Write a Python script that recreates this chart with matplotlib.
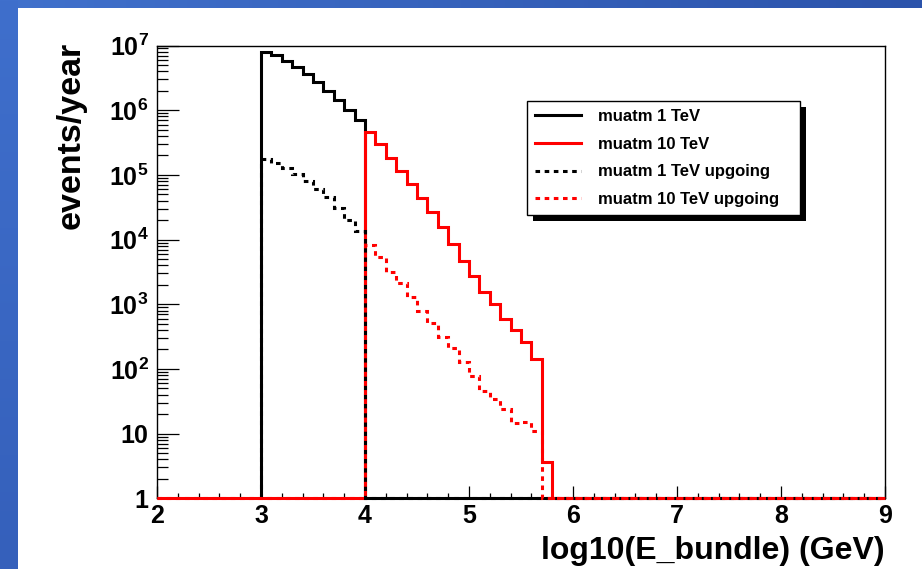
import numpy as np
import matplotlib
matplotlib.use("Agg")
import matplotlib.pyplot as plt
from matplotlib.patches import Rectangle
from matplotlib.ticker import FixedLocator, FixedFormatter, NullFormatter

plt.rcParams['font.family'] = ['Liberation Sans', 'DejaVu Sans']
plt.rcParams['font.weight'] = 'bold'
plt.rcParams['mathtext.fontset'] = 'custom'
plt.rcParams['mathtext.rm'] = 'Liberation Sans:bold'
plt.rcParams['mathtext.bf'] = 'Liberation Sans:bold'
plt.rcParams['mathtext.it'] = 'Liberation Sans:bold'

# histogram binning: bins of 0.1, axis from 2 to 9
x_min, x_max, bin_w = 2.0, 9.0, 0.1

# events/year per bin; each histogram has its own range start, bins after the data are empty
black_solid_range = 3.0
black_solid = [8.0e6, 7.1e6, 5.8e6, 4.6e6, 3.6e6, 2.7e6, 2.0e6, 1.42e6, 1.0e6, 7.0e5]

red_solid_range = 2.0
red_solid_start = 4.0
red_solid = [4.65e5, 3.0e5, 1.85e5, 1.16e5, 7.2e4, 4.4e4, 2.67e4, 1.58e4, 8.5e3,
             4.6e3, 2.76e3, 1.57e3, 1.02e3, 593, 394, 257, 140, 3.6]

black_dotted_range = 3.0
black_dotted = [1.74e5, 1.55e5, 1.28e5, 1.03e5, 8.1e4, 6.0e4, 4.5e4, 3.05e4, 2.0e4, 1.37e4]

red_dotted_range = 2.0
red_dotted_start = 4.0
red_dotted = [8.3e3, 5.3e3, 3.2e3, 2.1e3, 1.31e3, 796, 520, 316, 209, 130,
              79, 45, 34, 24, 14.8, 15.3, 11]

labels = ["muatm 1 TeV", "muatm 10 TeV", "muatm 1 TeV upgoing", "muatm 10 TeV upgoing"]

y_ticks = [1, 10, 1e2, 1e3, 1e4, 1e5, 1e6, 1e7]
y_ticklabels = ["1", "10", "$10^{2}$", "$10^{3}$", "$10^{4}$", "$10^{5}$", "$10^{6}$", "$10^{7}$"]
x_ticks = [2, 3, 4, 5, 6, 7, 8, 9]

W, H = 922, 569


def hist(range_lo, start, vals):
    n = int(round((x_max - range_lo) / bin_w))
    edges = np.linspace(range_lo, x_max, n + 1)
    h = np.zeros(n)
    i0 = int(round((start - range_lo) / bin_w))
    h[i0:i0 + len(vals)] = vals
    # empty bins are drawn at the axis minimum, like ROOT does
    return np.clip(h, 1, None), edges


fig = plt.figure(figsize=(W / 100, H / 100), dpi=100, facecolor="white")

# blue slide background strips
bg = fig.add_axes([0, 0, 1, 1], zorder=-5)
bg.set_xlim(0, W)
bg.set_ylim(H, 0)
bg.axis("off")
top_grad = np.linspace(0, 1, 256)[None, :]
bg.imshow(top_grad, extent=[0, W, 8, 0], aspect="auto",
          cmap=matplotlib.colors.LinearSegmentedColormap.from_list("t", ["#4171cc", "#2b53ab"]))
left_grad = np.linspace(0, 1, 256)[:, None]
bg.imshow(left_grad, extent=[0, 17, H, 0], aspect="auto",
          cmap=matplotlib.colors.LinearSegmentedColormap.from_list("l", ["#3f6fcc", "#3560bb"]))

ax = fig.add_axes([157 / W, 1 - 498.3 / H, (885 - 157) / W, (498.3 - 45.5) / H])
ax.set_yscale("log")

lw = 2.2
dots = (0, (1.5, 1.5))
v, e = hist(black_solid_range, black_solid_range, black_solid)
ax.stairs(v, e, baseline=1, color="black", lw=lw, clip_on=False, zorder=3, label=labels[0])
v, e = hist(red_solid_range, red_solid_start, red_solid)
ax.stairs(v, e, baseline=1, color="red", lw=lw, clip_on=False, zorder=3, label=labels[1])
v, e = hist(black_dotted_range, black_dotted_range, black_dotted)
ax.stairs(v, e, baseline=1, color="black", lw=lw, ls=dots, clip_on=False, zorder=3,
          label=labels[2])
v, e = hist(red_dotted_range, red_dotted_start, red_dotted)
ax.stairs(v, e, baseline=1, color="red", lw=lw, ls=dots, clip_on=False, zorder=3,
          label=labels[3])

ax.set_xlim(x_min, x_max)
ax.set_ylim(1, 1e7)

ax.xaxis.set_major_locator(FixedLocator(x_ticks))
ax.xaxis.set_minor_locator(FixedLocator(np.arange(2, 9.01, 0.2)))
ax.yaxis.set_major_locator(FixedLocator(y_ticks))
ax.yaxis.set_major_formatter(FixedFormatter(y_ticklabels))
ax.yaxis.set_minor_locator(matplotlib.ticker.LogLocator(base=10, subs=np.arange(2, 10), numticks=20))
ax.yaxis.set_minor_formatter(NullFormatter())

ax.tick_params(axis="both", which="both", direction="in", top=False, right=False,
               width=0.9, labelsize=18)
ax.tick_params(axis="y", which="major", length=16, pad=6)
ax.tick_params(axis="y", which="minor", length=8)
ax.tick_params(axis="x", which="major", length=8.5, pad=4)
ax.tick_params(axis="x", which="minor", length=3.6)
for lab in ax.get_xticklabels() + ax.get_yticklabels():
    lab.set_fontweight("bold")
for s in ax.spines.values():
    s.set_linewidth(1.0)

ax.text(1.0, -0.083, "log10(E_bundle) (GeV)", transform=ax.transAxes,
        ha="right", va="top", fontsize=23, fontweight="bold")
ax.text((71 - 157) / 728, 1.008, "events/year", transform=ax.transAxes, rotation=90,
        ha="center", va="top", fontsize=24.5, fontweight="bold")

leg = ax.legend(labels=labels, handles=ax.get_legend_handles_labels()[0],
                loc="upper left", mode="expand",
                bbox_to_anchor=(527 / W, 1 - 214 / H, 273 / W, 113.3 / H),
                bbox_transform=fig.transFigure,
                borderaxespad=0, prop={"weight": "bold", "size": 12},
                handlelength=2.75, handletextpad=1.0, labelspacing=0.76, borderpad=0.5,
                fancybox=False, framealpha=1, edgecolor="black", shadow=False)
leg.get_frame().set_linewidth(1.0)
leg.set_zorder(5)
for h in leg.legend_handles:
    h.set_linewidth(lw)

fig.canvas.draw()
bb = leg.get_window_extent()
off = 6
shadow = Rectangle(((bb.x0 + off) / W, (bb.y0 - off) / H), bb.width / W, bb.height / H,
                   transform=fig.transFigure, facecolor="black", edgecolor="none",
                   zorder=leg.get_zorder() - 0.1)
ax.add_artist(shadow)
shadow.set_clip_on(False)

fig.savefig("out.png", dpi=100, facecolor="white")
